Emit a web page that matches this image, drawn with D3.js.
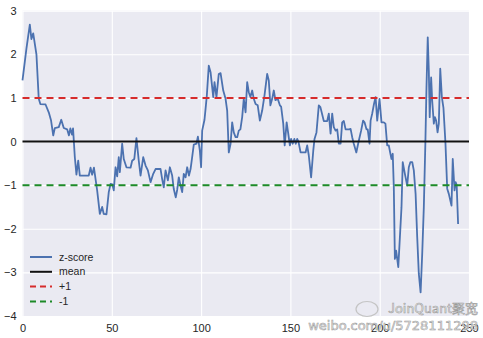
<!DOCTYPE html>
<html>
<head>
<meta charset="utf-8">
<script src="https://cdn.jsdelivr.net/npm/d3@7/dist/d3.min.js"></script>
<style>
  html, body { margin: 0; padding: 0; background: #ffffff; }
  svg { display: block; font-family: "Liberation Sans", Arial, "DejaVu Sans", sans-serif; }
</style>
</head>
<body>
<svg id="chart" width="483" height="338"></svg>
<script>
// Trading-day index and the rolling z-score of the spread
const day = [
  0, 2.2, 4.1, 5, 6, 7.8, 9.1, 10, 12.9, 14.7, 16, 17.2, 18.1, 20.3, 21.7, 23.1, 25, 26, 26.8, 27.7,
  28.3, 29.3, 30.2, 31.2, 32.1, 37.1, 38.1, 39, 40, 41.8, 43.3, 44.6, 45.5, 47, 48.3, 49.3, 50.3, 51.1, 52.1, 53,
  53.9, 54.5, 55.8, 56.7, 58.2, 60.5, 61.4, 62.6, 63.8, 65.1, 66.1, 67.6, 68.9, 70.2, 71.7, 73.2, 74.5, 77.3, 78.2, 79.1,
  80.1, 81.4, 82.5, 83.8, 84.7, 85.8, 86.6, 87.5, 88.5, 89.4, 90.3, 91.3, 92.2, 93.2, 94.1, 95, 95.9, 97.4, 98.2, 99.3,
  100, 100.6, 101.9, 102.5, 103.2, 104.3, 105.3, 106.8, 107.5, 108.6, 109.9, 110.9, 112.4, 113.7, 114.6, 115.5, 116.5, 117.4, 118.3, 119.3,
  120.2, 121.1, 122, 123, 123.9, 124.9, 125.8, 126.7, 127.6, 128.6, 129.5, 130.5, 131.7, 132.9, 134.2, 135.5, 137, 137.9, 138.8, 139.8,
  140.7, 141.6, 142.9, 144.1, 144.8, 146, 146.8, 147.9, 148.7, 149.7, 150.4, 151.3, 152.2, 153, 153.8, 154.5, 155.7, 158.5, 159.4, 160.3,
  161.6, 162.8, 163.5, 164.6, 165.9, 166.8, 168.7, 170.6, 171.5, 172.5, 173.4, 174.3, 175.3, 176.2, 177.1, 178.1, 179, 179.9, 180.9, 182.8,
  183.7, 184.6, 185.5, 186.9, 188.2, 189.6, 190.7, 191.5, 192.6, 193.3, 194.3, 194.9, 195.8, 196.8, 197.7, 198.6, 199.9, 201, 202.3, 203.2,
  204.2, 205.1, 206, 206.6, 207.3, 207.9, 208.5, 209.2, 210.4, 211.1, 212.2, 212.9, 214.1, 215.4, 216.3, 217.2, 218.2, 219.1, 220.1, 221,
  221.9, 222.9, 223.8, 224.7, 225.6, 226.2, 226.9, 227.5, 228, 228.8, 229.4, 230.3, 230.9, 231.6, 232.4, 233.1, 233.9, 234.8, 235.7, 236.8,
  237.8, 238.7, 240.2, 240.9, 241.9, 242.5, 243.1, 243.9
];
const zscore = [
  1.40, 2.13, 2.68, 2.35, 2.48, 2.00, 0.98, 0.86, 0.85, 0.67, 0.48, 0.14, 0.31, 0.33, 0.50, 0.31, 0.28, 0.14, 0.30, 0.16,
  0.30, -0.36, -0.76, -0.44, -0.78, -0.78, -0.60, -0.76, -0.60, -1.12, -1.66, -1.50, -1.66, -1.67, -1.16, -0.97, -0.98, -1.12, -0.59, -0.80,
  -0.36, -0.70, -0.05, -0.40, -0.59, -0.60, -0.44, -0.40, 0.08, -0.44, -0.78, -0.36, -0.55, -0.66, -0.93, -0.74, -0.63, -0.63, -0.86, -1.05,
  -0.66, -0.89, -0.59, -0.78, -1.09, -1.28, -1.11, -0.82, -1.01, -1.16, -0.74, -0.82, -0.59, -0.78, -0.63, -0.36, -0.07, -0.05, 0.11, -0.21,
  -0.59, 0.25, 0.50, 0.75, 1.05, 1.74, 1.59, 1.02, 1.36, 1.02, 1.55, 1.57, 1.17, 0.98, 0.71, -0.25, -0.05, 0.44, 0.21, 0.10,
  0.10, 0.25, 0.28, 0.56, 0.98, 0.67, 1.36, 1.13, 1.02, 1.17, 0.98, 0.86, 0.83, 0.48, 0.71, 1.06, 1.55, 1.40, 0.83, 0.98,
  1.17, 0.95, 0.98, 0.83, 0.80, 0.41, -0.09, 0.44, 0.21, -0.09, 0.06, -0.05, 0.06, -0.05, 0.06, 0.00, -0.25, -0.25, -0.09, -0.32,
  -0.82, -0.21, 0.06, 0.21, 0.83, 0.79, 0.47, 0.47, 0.64, 0.18, 0.64, 0.33, 0.25, 0.28, -0.05, -0.05, 0.44, 0.47, 0.28, 0.28,
  0.29, 0.10, -0.05, -0.25, 0.00, 0.25, 0.48, 0.44, 0.28, 0.28, -0.05, 0.48, 0.64, 0.86, 1.02, 0.48, 0.98, 0.44, 0.44, 0.41,
  -0.09, -0.09, -0.28, -0.40, -0.28, -1.05, -2.69, -2.50, -2.88, -2.35, -1.51, -0.47, -0.74, -1.01, -0.59, -0.47, -0.47, -0.66, -1.20, -2.19,
  -3.03, -3.46, -2.58, -1.51, 0.02, 1.25, 2.39, 1.63, 0.56, 1.47, 0.93, 0.41, 0.56, 0.48, 0.21, 0.41, 1.67, 1.02, 0.77, -0.02,
  -1.08, -1.20, -1.47, -0.40, -1.12, -0.93, -1.00, -1.89
];

// Reference levels: the mean and one standard deviation either side
const levels = [
  { name: "mean", value: 0, color: "#111111", dash: null },
  { name: "+1", value: 1, color: "#d62c2c", dash: "7,5" },
  { name: "-1", value: -1, color: "#1d8a28", dash: "7,5" }
];
const xTicks = [0, 50, 100, 150, 200, 250];
const yTicks = [-4, -3, -2, -1, 0, 1, 2, 3];
const legendLabels = ["z-score", "mean", "+1", "-1"];

const svg = d3.select("#chart");
const margin = { left: 22.5, top: 10.7, right: 483 - 469, bottom: 338 - 316 };
const W = 483, H = 338;

const x = d3.scaleLinear().domain([0, 250]).range([margin.left, W - margin.right]);
const y = d3.scaleLinear().domain([-4, 3]).range([H - margin.bottom, margin.top]);

// Axes background
svg.append("rect")
  .attr("x", x(0)).attr("y", y(3))
  .attr("width", x(250) - x(0)).attr("height", y(-4) - y(3))
  .attr("fill", "#eaeaf2");

// White grid lines drawn from the axes' tick positions
const gx = svg.append("g")
  .attr("transform", `translate(0,${y(-4)})`)
  .call(d3.axisBottom(x).tickValues(xTicks).tickSize(-(y(-4) - y(3))).tickPadding(6).tickFormat(d3.format("d")));
const gy = svg.append("g")
  .attr("transform", `translate(${x(0)},0)`)
  .call(d3.axisLeft(y).tickValues(yTicks).tickSize(-(x(250) - x(0))).tickPadding(6)
    .tickFormat(d => d < 0 ? "\u2212" + Math.abs(d) : String(d)));

[gx, gy].forEach(g => {
  g.select(".domain").remove();
  g.selectAll(".tick line").attr("stroke", "#ffffff").attr("stroke-width", 1.1);
  g.selectAll(".tick text").attr("fill", "#262626").attr("font-size", 11)
    .attr("font-family", "\"Liberation Sans\", Arial, sans-serif");
});
gx.selectAll(".tick text").attr("dy", "0.9em");

// z-score series
const line = d3.line().x((d, i) => x(day[i])).y(d => y(d));
svg.append("path")
  .datum(zscore)
  .attr("fill", "none")
  .attr("stroke", "#4c72b0")
  .attr("stroke-width", 1.8)
  .attr("stroke-linejoin", "round")
  .attr("d", line);

// Horizontal reference lines
svg.selectAll("line.level")
  .data(levels)
  .enter().append("line")
  .attr("class", "level")
  .attr("x1", x(0)).attr("x2", x(250))
  .attr("y1", d => y(d.value)).attr("y2", d => y(d.value))
  .attr("stroke", d => d.color)
  .attr("stroke-width", 2)
  .attr("stroke-dasharray", d => d.dash);

// Legend (lower left, no frame)
const legendStyles = [
  { color: "#4c72b0", dash: null },
  ...levels.map(l => ({ color: l.color, dash: l.dash }))
];
const legend = svg.append("g").attr("transform", "translate(30,257)");
legendLabels.forEach((label, i) => {
  const row = legend.append("g").attr("transform", `translate(0,${i * 14.8})`);
  row.append("line")
    .attr("x1", 0).attr("x2", 22)
    .attr("stroke", legendStyles[i].color)
    .attr("stroke-width", 2)
    .attr("stroke-dasharray", legendStyles[i].dash ? "6,4" : null);
  row.append("text")
    .attr("x", 29).attr("y", 0).attr("dy", "0.35em")
    .attr("font-size", 10.5).attr("fill", "#262626")
    .text(label);
});

// Source watermark
const wm = svg.append("g").attr("fill", "#efefef").attr("stroke", "#9a9a9a").attr("stroke-width", 0.55);
wm.append("ellipse").attr("cx", 367).attr("cy", 309).attr("rx", 11).attr("ry", 7.5)
  .attr("fill", "none").attr("stroke", "#c4c4c4").attr("stroke-width", 1.2);
wm.append("text").attr("x", 478).attr("y", 313).attr("text-anchor", "end")
  .attr("font-size", 13).attr("font-family", "\"Noto Sans CJK SC\", \"DejaVu Sans\", sans-serif")
  .text("JoinQuant聚宽");
wm.append("text").attr("x", 478).attr("y", 330).attr("text-anchor", "end")
  .attr("font-size", 13).attr("font-family", "\"DejaVu Sans\", sans-serif")
  .text("weibo.com/u/5728111298");
</script>
</body>
</html>
